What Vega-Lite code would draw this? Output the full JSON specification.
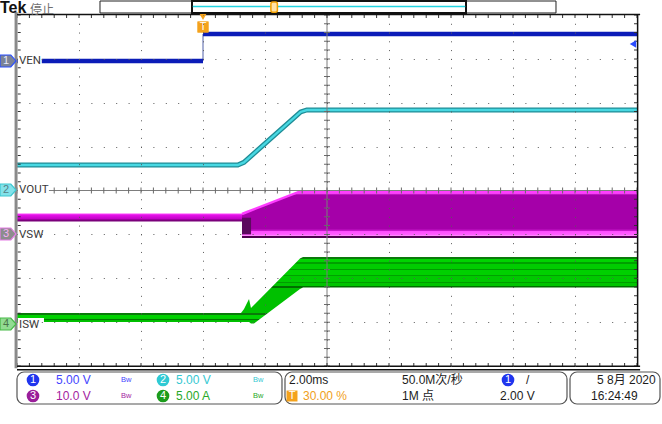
{
  "$schema": "https://vega.github.io/schema/vega-lite/v6.json",
  "width": 620,
  "height": 351,
  "autosize": {"type": "none"},
  "padding": {"left": 17, "top": 15, "right": 25, "bottom": 58},
  "background": "#ffffff",
  "config": {"view": {"stroke": null}},
  "datasets": {
    "ch1": [
      {"t": -6, "d": 2.952, "seg": "low"},
      {"t": 0, "d": 2.952, "seg": "low"},
      {"t": 0, "d": 3.567, "seg": "high"},
      {"t": 14, "d": 3.567, "seg": "high"}
    ],
    "ch2": [
      {"t": -6, "d": 0.581},
      {"t": 1.12, "d": 0.581},
      {"t": 1.32, "d": 0.64},
      {"t": 3.15, "d": 1.79},
      {"t": 3.35, "d": 1.835},
      {"t": 14, "d": 1.835}
    ],
    "ch3_low": [
      {"t": -6, "d": -0.525, "d2": -0.706},
      {"t": 1.258, "d": -0.525, "d2": -0.706}
    ],
    "ch3_main": [
      {"t": 1.258, "d": -0.536, "d2": -1.083},
      {"t": 1.42, "d": -0.49, "d2": -1.083},
      {"t": 3.13, "d": -0.02, "d2": -1.083},
      {"t": 14, "d": -0.02, "d2": -1.083}
    ],
    "ch3_dark": [
      {"t": 1.258, "t2": 1.55, "d": -0.62, "d2": -1.0}
    ],
    "ch4": [
      {"t": -6, "d": -2.792, "d2": -2.997},
      {"t": 1.226, "d": -2.792, "d2": -2.997},
      {"t": 1.323, "d": -2.701, "d2": -2.997},
      {"t": 1.484, "d": -2.473, "d2": -2.997},
      {"t": 1.548, "d": -2.678, "d2": -3.031},
      {"t": 1.645, "d": -2.61, "d2": -3.031},
      {"t": 3.129, "d": -1.55, "d2": -2.245},
      {"t": 3.226, "d": -1.516, "d2": -2.211},
      {"t": 14, "d": -1.516, "d2": -2.211}
    ],
    "center": [
      {"t": -6, "t2": 14, "d": 0, "d2": 0},
      {"t": 4, "t2": 4, "d": -4, "d2": 4}
    ],
    "center_h": [{"t": -6, "t2": 14, "d": 0, "d2": 0}],
    "center_v": [{"t": 4, "t2": 4, "d": -4, "d2": 4}],
    "edge_h": [
      {"t": -6, "t2": 14, "d": 3.966, "d2": 3.966},
      {"t": -6, "t2": 14, "d": -3.966, "d2": -3.966}
    ],
    "edge_v": [
      {"t": 13.952, "t2": 13.952, "d": -4, "d2": 4},
      {"t": -5.93, "t2": -5.93, "d": -4, "d2": 4}
    ],
    "border_left": [{"t": -6.03, "t2": -6.03, "d": -4.05, "d2": 4.07}],
    "border_black": [
      {"t": -6, "t2": 14.1, "d": 4.01, "d2": 4.01},
      {"t": 14.02, "t2": 14.02, "d": -4, "d2": 4.01},
      {"t": -6, "t2": 14.1, "d": -4.005, "d2": -4.005},
      {"t": -6, "t2": 14.1, "d": -4.085, "d2": -4.085}
    ],
    "labelbg": [
      {"t": -5.97, "t2": -5.2, "d": 3.088, "d2": 2.815},
      {"t": -5.97, "t2": -4.97, "d": 0.148, "d2": -0.125},
      {"t": -5.97, "t2": -5.13, "d": -0.877, "d2": -1.151},
      {"t": -5.97, "t2": -5.13, "d": -2.906, "d2": -3.179}
    ],
    "labels": [
      {"t": -5.935, "d": 2.952, "label": "VEN", "c": "lab"},
      {"t": -5.935, "d": 0.011, "label": "VOUT", "c": "lab"},
      {"t": -5.935, "d": -1.014, "label": "VSW", "c": "lab"},
      {"t": -5.935, "d": -3.066, "label": "ISW", "c": "lab"}
    ],
    "chmarks": [
      {"t": -6.29, "d": 2.952, "c": "b1"},
      {"t": -6.29, "d": 0.011, "c": "b2"},
      {"t": -6.29, "d": -0.991, "c": "b3"},
      {"t": -6.29, "d": -3.043, "c": "b4"}
    ],
    "chdigits": [
      {"t": -6.35, "d": 2.952, "label": "1", "c": "m1"},
      {"t": -6.35, "d": 0.011, "label": "2", "c": "m2"},
      {"t": -6.35, "d": -0.991, "label": "3", "c": "m3"},
      {"t": -6.35, "d": -3.043, "label": "4", "c": "m4"}
    ],
    "trigtri": [{"t": 0, "d": 3.954}],
    "trigsq": [
      {"t": 0, "d": 3.726},
      {"t": 2.871, "d": -4.684}
    ],
    "triglevel": [{"t": 13.87, "d": 3.339}],
    "hdr_tek": [{"t": -6.548, "d": 4.15, "label": "Tek", "c": "ink"}],
    "hdr_stop": [{"t": -5.58, "d": 4.125, "label": "停止", "c": "dim"}],
    "rec_outer": [{"t": -3.323, "t2": 11.387, "d": 4.319, "d2": 4.046}],
    "rec_inner": [{"t": -0.355, "t2": 8.484, "d": 4.319, "d2": 4.046}],
    "rec_cyan": [{"t": -0.33, "t2": 8.46, "d": 4.194, "d2": 4.194}],
    "rec_mark": [{"t": 2.19, "t2": 2.4, "d": 4.296, "d2": 4.06}],
    "panels": [
      {"t": -6, "t2": 2.548, "d": -4.137, "d2": -4.866},
      {"t": 2.645, "t2": 11.742, "d": -4.137, "d2": -4.866},
      {"t": 11.839, "t2": 14.742, "d": -4.137, "d2": -4.866}
    ],
    "panelbadges": [
      {"t": -5.484, "d": -4.319, "c": "c1"},
      {"t": -1.29, "d": -4.319, "c": "c2"},
      {"t": -5.484, "d": -4.684, "c": "c3"},
      {"t": -1.29, "d": -4.684, "c": "c4"},
      {"t": 9.839, "d": -4.319, "c": "c1"}
    ],
    "badgedigits": [
      {"t": -5.484, "d": -4.319, "label": "1"},
      {"t": -1.29, "d": -4.319, "label": "2"},
      {"t": -5.484, "d": -4.684, "label": "3"},
      {"t": -1.29, "d": -4.684, "label": "4"},
      {"t": 9.839, "d": -4.319, "label": "1"},
      {"t": 2.871, "d": -4.684, "label": "T"},
      {"t": 0, "d": 3.726, "label": "T"}
    ],
    "paneltext": [
      {"t": -4.742, "d": -4.319, "label": "5.00 V", "c": "c1"},
      {"t": -0.871, "d": -4.319, "label": "5.00 V", "c": "c2"},
      {"t": -4.742, "d": -4.684, "label": "10.0 V", "c": "c3"},
      {"t": -0.871, "d": -4.684, "label": "5.00 A", "c": "c4"},
      {"t": 2.774, "d": -4.319, "label": "2.00ms", "c": "ink"},
      {"t": 6.419, "d": -4.319, "label": "50.0M次/秒", "c": "ink"},
      {"t": 10.42, "d": -4.319, "label": "/", "c": "ink"},
      {"t": 3.226, "d": -4.684, "label": "30.00 %", "c": "trg"},
      {"t": 6.419, "d": -4.684, "label": "1M 点", "c": "ink"},
      {"t": 9.581, "d": -4.684, "label": "2.00 V", "c": "ink"},
      {"t": 12.71, "d": -4.319, "label": "5 8月 2020", "c": "ink"},
      {"t": 12.516, "d": -4.684, "label": "16:24:49", "c": "ink"}
    ],
    "bw": [
      {"t": -2.645, "d": -4.319, "label": "Bw", "c": "c1"},
      {"t": 1.613, "d": -4.319, "label": "Bw", "c": "c2"},
      {"t": -2.645, "d": -4.684, "label": "Bw", "c": "c3"},
      {"t": 1.613, "d": -4.684, "label": "Bw", "c": "c4"}
    ]
  },
  "encoding": {
    "x": {
      "field": "t", "type": "quantitative",
      "scale": {"domain": [-6, 14], "nice": false, "zero": false},
      "axis": {"values": [-4, -2, 0, 2, 4, 6, 8, 10, 12], "grid": true, "gridDash": [1, 7.775], "gridDashOffset": 0.5, "gridColor": "#5a5a5a", "gridWidth": 1, "gridOpacity": 1, "ticks": false, "labels": false, "domain": false, "title": null, "zindex": 1}
    },
    "y": {
      "field": "d", "type": "quantitative",
      "scale": {"domain": [-4, 4], "nice": false, "zero": false},
      "axis": {"values": [-3, -2, -1, 1, 2, 3], "grid": true, "gridDash": [1, 11.4], "gridDashOffset": 0.5, "gridColor": "#5a5a5a", "gridWidth": 1, "gridOpacity": 1, "ticks": false, "labels": false, "domain": false, "title": null, "zindex": 1}
    }
  },
  "layer": [
    {"data": {"name": "ch3_low"},
     "mark": {"type": "area", "color": {"gradient": "linear", "x1": 0, "y1": 0, "x2": 0, "y2": 1, "stops": [{"offset": 0, "color": "#ff44ff"}, {"offset": 0.25, "color": "#e010e4"}, {"offset": 0.7, "color": "#c000c6"}, {"offset": 0.8, "color": "#7a007a"}, {"offset": 1, "color": "#7a007a"}]}},
     "encoding": {"y2": {"field": "d2"}}},
    {"data": {"name": "ch3_main"},
     "mark": {"type": "area", "color": {"gradient": "linear", "x1": 0, "y1": 0, "x2": 0, "y2": 1, "stops": [{"offset": 0, "color": "#f640f6"}, {"offset": 0.06, "color": "#f640f6"}, {"offset": 0.07, "color": "#a500a9"}, {"offset": 0.8, "color": "#a500a9"}, {"offset": 0.84, "color": "#c818cc"}, {"offset": 0.86, "color": "#ff4cff"}, {"offset": 0.93, "color": "#ff60ff"}, {"offset": 0.95, "color": "#ff90ff"}, {"offset": 0.955, "color": "#4e004e"}, {"offset": 1, "color": "#4e004e"}]}},
     "encoding": {"y2": {"field": "d2"}}},
    {"data": {"name": "ch3_main"},
     "mark": {"type": "line", "color": "#ff3cff", "strokeWidth": 2.5}},
    {"data": {"name": "ch3_dark"},
     "mark": {"type": "rect", "color": "#5c0a5e"},
     "encoding": {"x2": {"field": "t2"}, "y2": {"field": "d2"}}},
    {"data": {"name": "ch4"},
     "mark": {"type": "area", "color": {"gradient": "linear", "x1": 0, "y1": 0, "x2": 0, "y2": 1, "stops": [
       {"offset": 0, "color": "#0a7a0a"}, {"offset": 0.0226, "color": "#0a7a0a"},
       {"offset": 0.0227, "color": "#00d400"}, {"offset": 0.075, "color": "#00d400"},
       {"offset": 0.0751, "color": "#00a000"}, {"offset": 0.098, "color": "#00a000"},
       {"offset": 0.0981, "color": "#00cc00"}, {"offset": 0.173, "color": "#00cc00"},
       {"offset": 0.1731, "color": "#009a00"}, {"offset": 0.195, "color": "#009a00"},
       {"offset": 0.1951, "color": "#00d000"}, {"offset": 0.271, "color": "#00d000"},
       {"offset": 0.2711, "color": "#00a200"}, {"offset": 0.293, "color": "#00a200"},
       {"offset": 0.2931, "color": "#00c800"}, {"offset": 0.376, "color": "#00c800"},
       {"offset": 0.3761, "color": "#009c00"}, {"offset": 0.398, "color": "#009c00"},
       {"offset": 0.3981, "color": "#00c400"}, {"offset": 0.436, "color": "#00c400"},
       {"offset": 0.4361, "color": "#006e00"}, {"offset": 0.466, "color": "#006e00"},
       {"offset": 0.4661, "color": "#00c000"}, {"offset": 0.842, "color": "#00c000"},
       {"offset": 0.8421, "color": "#0a7a0a"}, {"offset": 0.865, "color": "#0a7a0a"},
       {"offset": 0.8651, "color": "#00d200"}, {"offset": 0.925, "color": "#00d200"},
       {"offset": 0.9251, "color": "#007a00"}, {"offset": 0.955, "color": "#007a00"},
       {"offset": 0.9551, "color": "#00c000"}, {"offset": 1, "color": "#00c000"}]}},
     "encoding": {"y2": {"field": "d2"}}},
    {"data": {"name": "ch2"},
     "mark": {"type": "line", "color": "#1f8c96", "strokeWidth": 5}},
    {"data": {"name": "ch2"},
     "mark": {"type": "line", "color": "#48d8e2", "strokeWidth": 2.4}},
    {"data": {"name": "ch1"},
     "mark": {"type": "line", "color": "#5060a8", "strokeWidth": 1}},
    {"data": {"name": "ch1"},
     "mark": {"type": "line", "color": "#0b1cb8", "strokeWidth": 4.5},
     "encoding": {"detail": {"field": "seg"}}},
    {"data": {"name": "center"},
     "mark": {"type": "rule", "color": "#7d7d7d", "strokeWidth": 1},
     "encoding": {"x2": {"field": "t2"}, "y2": {"field": "d2"}}},
    {"data": {"name": "center_h"},
     "mark": {"type": "rule", "color": "#6a6a6a", "strokeWidth": 6, "strokeDash": [1, 11.4], "strokeDashOffset": 0.5},
     "encoding": {"x2": {"field": "t2"}, "y2": {"field": "d2"}}},
    {"data": {"name": "center_v"},
     "mark": {"type": "rule", "color": "#6a6a6a", "strokeWidth": 6, "strokeDash": [1, 7.775], "strokeDashOffset": 0.5},
     "encoding": {"x2": {"field": "t2"}, "y2": {"field": "d2"}}},
    {"data": {"name": "edge_h"},
     "mark": {"type": "rule", "color": "#333333", "strokeWidth": 3, "strokeDash": [1, 11.4], "strokeDashOffset": 0.5},
     "encoding": {"x2": {"field": "t2"}, "y2": {"field": "d2"}}},
    {"data": {"name": "edge_v"},
     "mark": {"type": "rule", "color": "#333333", "strokeWidth": 3, "strokeDash": [1, 7.775], "strokeDashOffset": 0.5},
     "encoding": {"x2": {"field": "t2"}, "y2": {"field": "d2"}}},
    {"data": {"name": "border_left"},
     "mark": {"type": "rule", "color": "#8a8a8a", "strokeWidth": 3},
     "encoding": {"x2": {"field": "t2"}, "y2": {"field": "d2"}}},
    {"data": {"name": "border_black"},
     "mark": {"type": "rule", "color": "#111111", "strokeWidth": 1.5},
     "encoding": {"x2": {"field": "t2"}, "y2": {"field": "d2"}}},
    {"data": {"name": "labelbg"},
     "mark": {"type": "rect", "color": "#ffffff"},
     "encoding": {"x2": {"field": "t2"}, "y2": {"field": "d2"}}},
    {"data": {"name": "labels"},
     "mark": {"type": "text", "align": "left", "baseline": "middle", "font": "Roboto", "fontSize": 11.5},
     "encoding": {"text": {"field": "label"},
       "color": {"field": "c", "type": "nominal", "legend": null, "scale": {"domain": ["ink", "dim", "lab", "c1", "c2", "c3", "c4", "trg", "m1", "m2", "m3", "m4"], "range": ["#1c1c1c", "#6f6f6f", "#3a3a3a", "#4444ff", "#36c8d2", "#a3239f", "#28a828", "#f0a020", "#e6eaff", "#557f86", "#f7b0f7", "#4a744a"]}}}},
    {"data": {"name": "chmarks"},
     "mark": {"type": "point", "shape": "M-1,-0.75L0.35,-0.75L1,0L0.35,0.75L-1,0.75Z", "size": 256, "filled": true, "opacity": 1, "strokeWidth": 1.2},
     "encoding": {
       "fill": {"field": "c", "type": "nominal", "legend": null, "scale": {"domain": ["b1", "b2", "b3", "b4", "c1", "c2", "c3", "c4"], "range": ["#7b8397", "#83e2ea", "#8d8d8d", "#92dc92", "#2035ee", "#2fcad4", "#9a1e9a", "#1c9c1c"]}},
       "stroke": {"field": "c", "type": "nominal", "legend": null, "scale": {"domain": ["b1", "b2", "b3", "b4"], "range": ["#2b4fff", "#3dc7d0", "#e57de5", "#46b946"]}}}},
    {"data": {"name": "chdigits"},
     "mark": {"type": "text", "align": "center", "baseline": "middle", "font": "Liberation Sans", "fontSize": 11},
     "encoding": {"text": {"field": "label"},
       "color": {"field": "c", "type": "nominal", "legend": null, "scale": {"domain": ["ink", "dim", "lab", "c1", "c2", "c3", "c4", "trg", "m1", "m2", "m3", "m4"], "range": ["#1c1c1c", "#6f6f6f", "#3a3a3a", "#4444ff", "#36c8d2", "#a3239f", "#28a828", "#f0a020", "#e6eaff", "#557f86", "#f7b0f7", "#4a744a"]}}}},
    {"data": {"name": "trigtri"},
     "mark": {"type": "point", "shape": "triangle-down", "size": 45, "filled": true, "opacity": 1, "color": "#f4a21c"}},
    {"data": {"name": "trigsq"},
     "mark": {"type": "point", "shape": "square", "size": 120, "filled": true, "opacity": 1, "color": "#f4a21c"}},
    {"data": {"name": "triglevel"},
     "mark": {"type": "point", "shape": "triangle-left", "size": 55, "filled": true, "opacity": 1, "color": "#2a4cff"}},
    {"data": {"name": "hdr_tek"},
     "mark": {"type": "text", "align": "left", "baseline": "middle", "font": "Liberation Sans", "fontSize": 16, "fontWeight": "bold", "color": "#111111"},
     "encoding": {"text": {"field": "label"}}},
    {"data": {"name": "hdr_stop"},
     "mark": {"type": "text", "align": "left", "baseline": "middle", "font": "Noto Sans CJK SC", "fontSize": 12, "color": "#6f6f6f"},
     "encoding": {"text": {"field": "label"}}},
    {"data": {"name": "rec_outer"},
     "mark": {"type": "rect", "fill": "#ffffff", "stroke": "#222222", "strokeWidth": 1},
     "encoding": {"x2": {"field": "t2"}, "y2": {"field": "d2"}}},
    {"data": {"name": "rec_inner"},
     "mark": {"type": "rect", "fill": "#ffffff", "stroke": "#111111", "strokeWidth": 2},
     "encoding": {"x2": {"field": "t2"}, "y2": {"field": "d2"}}},
    {"data": {"name": "rec_cyan"},
     "mark": {"type": "rule", "color": "#22d3e0", "strokeWidth": 1.5},
     "encoding": {"x2": {"field": "t2"}, "y2": {"field": "d2"}}},
    {"data": {"name": "rec_mark"},
     "mark": {"type": "rect", "fill": "#ffe2a8", "stroke": "#f2a000", "strokeWidth": 1.5, "cornerRadius": 2},
     "encoding": {"x2": {"field": "t2"}, "y2": {"field": "d2"}}},
    {"data": {"name": "panels"},
     "mark": {"type": "rect", "fill": "#ffffff", "stroke": "#555555", "strokeWidth": 1.2, "cornerRadius": 7},
     "encoding": {"x2": {"field": "t2"}, "y2": {"field": "d2"}}},
    {"data": {"name": "panelbadges"},
     "mark": {"type": "point", "shape": "circle", "size": 160, "filled": true, "opacity": 1},
     "encoding": {
       "fill": {"field": "c", "type": "nominal", "legend": null, "scale": {"domain": ["b1", "b2", "b3", "b4", "c1", "c2", "c3", "c4"], "range": ["#7b8397", "#83e2ea", "#8d8d8d", "#92dc92", "#2035ee", "#2fcad4", "#9a1e9a", "#1c9c1c"]}}}},
    {"data": {"name": "trigsq"},
     "mark": {"type": "point", "shape": "square", "size": 120, "filled": true, "opacity": 1, "color": "#f4a21c"}},
    {"data": {"name": "badgedigits"},
     "mark": {"type": "text", "align": "center", "baseline": "middle", "font": "Liberation Sans", "fontSize": 11, "color": "#ffffff"},
     "encoding": {"text": {"field": "label"}}},
    {"data": {"name": "paneltext"},
     "mark": {"type": "text", "align": "left", "baseline": "middle", "font": "Liberation Sans, Noto Sans CJK SC", "fontSize": 12},
     "encoding": {"text": {"field": "label"},
       "color": {"field": "c", "type": "nominal", "legend": null, "scale": {"domain": ["ink", "dim", "lab", "c1", "c2", "c3", "c4", "trg", "m1", "m2", "m3", "m4"], "range": ["#1c1c1c", "#6f6f6f", "#3a3a3a", "#4444ff", "#36c8d2", "#a3239f", "#28a828", "#f0a020", "#e6eaff", "#557f86", "#f7b0f7", "#4a744a"]}}}},
    {"data": {"name": "bw"},
     "mark": {"type": "text", "align": "left", "baseline": "middle", "font": "Liberation Sans", "fontSize": 7.5},
     "encoding": {"text": {"field": "label"},
       "color": {"field": "c", "type": "nominal", "legend": null, "scale": {"domain": ["ink", "dim", "lab", "c1", "c2", "c3", "c4", "trg", "m1", "m2", "m3", "m4"], "range": ["#1c1c1c", "#6f6f6f", "#3a3a3a", "#4444ff", "#36c8d2", "#a3239f", "#28a828", "#f0a020", "#e6eaff", "#557f86", "#f7b0f7", "#4a744a"]}}}}
  ]
}
